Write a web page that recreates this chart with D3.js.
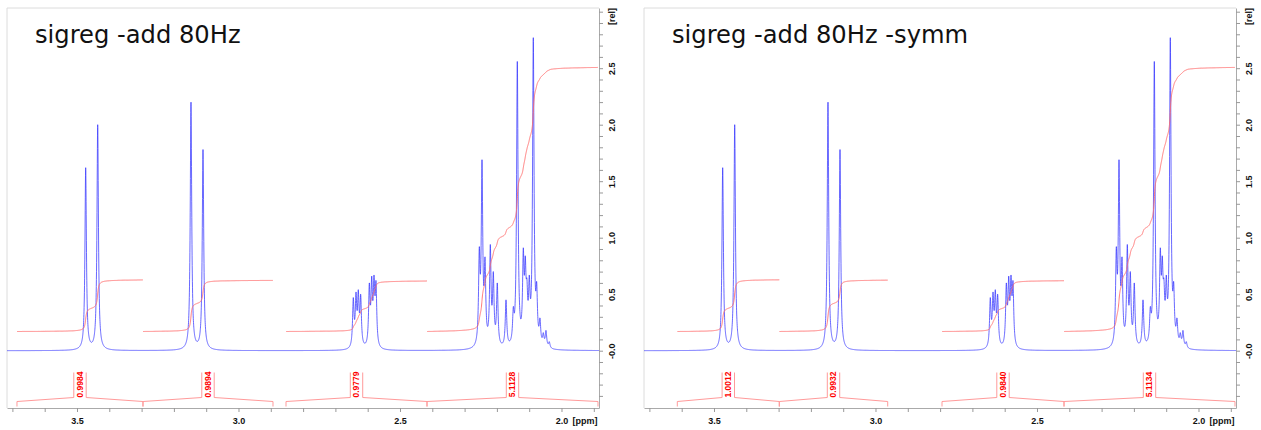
<!DOCTYPE html>
<html>
<head>
<meta charset="utf-8">
<script src="https://cdn.jsdelivr.net/npm/d3@7"></script>
<style>
  body { margin: 0; background: #fff; }
  svg { display: block; }
</style>
</head>
<body>
<div id="chart"></div>
<script>
const width = 1261;
const height = 430;

// panel titles
const titles = ["sigreg -add 80Hz", "sigreg -add 80Hz -symm"];

// peak list: position [ppm] and apparent height [rel]
const peakPpm = [
  3.4731, 3.4359,
  3.1471, 3.1099,
  2.6446, 2.6362, 2.6291, 2.6217, 2.5950, 2.5876, 2.5805, 2.5743,
  2.2545, 2.2461, 2.2368, 2.2204, 2.2111, 2.1988, 2.1718, 2.1492,
  2.1368, 2.1183, 2.1121, 2.1071, 2.0997, 2.0873, 2.0768, 2.0666,
  2.0563, 2.0480, 2.0378
];
const peakHeight = [
  1.62, 2.00,
  2.20, 1.78,
  0.47, 0.52, 0.54, 0.50, 0.60, 0.66, 0.67, 0.62,
  0.92, 1.69, 0.83, 0.94, 0.70, 0.60, 0.45, 0.39,
  2.56, 0.91, 0.84, 0.64, 0.67, 2.77, 0.61, 0.29,
  0.16, 0.18, 0.08
];

// integral regions [ppm from, ppm to] and their values, one list per panel
const regionsLeft = [[3.6858, 3.2957], [3.2957, 2.8932], [2.8529, 2.4164], [2.4164, 1.8870]];
const integralsLeft = [0.9984, 0.9894, 0.9779, 5.1128];
const regionsRight = [[3.6136, 3.2978], [3.2978, 2.9622], [2.7941, 2.4164], [2.4164, 1.8870]];
const integralsRight = [1.0012, 0.9932, 0.9840, 5.1134];

// axis labels
const xLabelValues = [3.5, 3.0, 2.5, 2.0];
const xLabels = ["3.5", "3.0", "2.5", "2.0"];
const yLabelValues = [0, 0.5, 1.0, 1.5, 2.0, 2.5];
const yLabels = ["-0.0", "0.5", "1.0", "1.5", "2.0", "2.5"];

const lineWidthPpm = 0.0027;   // lorentzian half width
const integralBase = 0.17;      // where integral curves start [rel]
const integralUnit = 0.457;     // rel per integral unit

const svg = d3.select("#chart").append("svg")
  .attr("width", width)
  .attr("height", height);

const x = d3.scaleLinear().domain([3.7167, 1.8839]).range([7, 599]);
const y = d3.scaleLinear().domain([-0.5071, 3.0327]).range([408, 8]);

function lor(p, c) {
  const d = p - c;
  return lineWidthPpm * lineWidthPpm / (d * d + lineWidthPpm * lineWidthPpm);
}

// scale amplitudes so the summed lines reach the heights
let amp = peakHeight.slice();
for (let it = 0; it < 60; it++) {
  const sums = peakPpm.map(c => d3.sum(peakPpm, (pj, j) => amp[j] * lor(c, pj)));
  amp = amp.map((a, i) => Math.max(0, a * peakHeight[i] / sums[i]));
}
function spectrum(p) {
  let s = 0;
  for (let j = 0; j < peakPpm.length; j++) s += amp[j] * lor(p, peakPpm[j]);
  return s;
}

const grid = d3.range(7, 599.01, 0.1).map(px => x.invert(px));
const points = grid.map(p => [p, spectrum(p)]);

const line = d3.line().x(d => x(d[0])).y(d => y(d[1]));

function drawPanel(dx, title, regions, integrals) {
  const g = svg.append("g").attr("transform", `translate(${dx},0)`);

  // frame
  g.append("path")
    .attr("d", `M7,408V8H599`)
    .attr("fill", "none")
    .attr("stroke", "#dcdcdc");

  g.append("text")
    .attr("x", 35)
    .attr("y", 43.3)
    .style("font-family", "'DejaVu Sans', Verdana, sans-serif")
    .style("font-size", "24.2px")
    .attr("fill", "#111")
    .text(title);

  // bottom axis
  const xAxis = d3.axisBottom(x)
    .tickValues(d3.range(37, 18, -1).map(v => v / 10))
    .tickSize(4)
    .tickSizeOuter(0)
    .tickFormat(d => {
      const k = xLabelValues.findIndex(v => Math.abs(v - d) < 1e-6);
      return k >= 0 ? xLabels[k] : "";
    });
  const gx = g.append("g").attr("transform", "translate(0,408)").call(xAxis);
  gx.select(".domain").attr("stroke", "#aaa");
  gx.selectAll(".tick line").attr("stroke", "#999");
  gx.selectAll(".tick text")
    .attr("y", 16.3)
    .attr("dy", null)
    .attr("fill", "#111")
    .style("font-family", "'Liberation Sans', Arial, sans-serif")
    .style("font-size", "9px")
    .style("font-weight", "bold");
  gx.append("text")
    .attr("x", x(2.0) + 11)
    .attr("y", 16.3)
    .attr("text-anchor", "start")
    .attr("fill", "#111")
    .style("font-family", "'Liberation Sans', Arial, sans-serif")
    .style("font-size", "9px")
    .style("font-weight", "bold")
    .text("[ppm]");

  // right axis
  const yAxis = d3.axisRight(y)
    .tickValues(d3.range(-4, 31).map(v => v / 10))
    .tickSize(4)
    .tickSizeOuter(0)
    .tickFormat(d => {
      const k = yLabelValues.findIndex(v => Math.abs(v - d) < 1e-6);
      return k >= 0 ? yLabels[k] : "";
    });
  const gy = g.append("g").attr("transform", "translate(599,0)").call(yAxis);
  gy.select(".domain").attr("stroke", "#aaa");
  gy.selectAll(".tick line").attr("stroke", "#999");
  gy.selectAll(".tick text")
    .attr("x", null)
    .attr("dy", "0.35em")
    .attr("text-anchor", "middle")
    .attr("transform", "translate(13,0) rotate(-90)")
    .attr("fill", "#111")
    .style("font-family", "'Liberation Sans', Arial, sans-serif")
    .style("font-size", "9px")
    .style("font-weight", "bold");
  gy.append("text")
    .attr("dy", "0.35em")
    .attr("text-anchor", "middle")
    .attr("transform", "translate(13,16.5) rotate(-90)")
    .attr("fill", "#111")
    .style("font-family", "'Liberation Sans', Arial, sans-serif")
    .style("font-size", "9px")
    .style("font-weight", "bold")
    .text("[rel]");

  // spectrum
  g.append("path")
    .datum(points)
    .attr("d", line)
    .attr("fill", "none")
    .attr("stroke", "#3535ff")
    .attr("stroke-width", 0.75);

  // integrals
  regions.forEach((r, i) => {
    const seg = points.filter(d => d[0] <= r[0] && d[0] >= r[1]);
    let cum = 0;
    const acc = seg.map(d => { cum += d[1]; return cum; });
    const curve = seg.map((d, k) => [d[0], integralBase + integralUnit * integrals[i] * acc[k] / cum]);
    g.append("path")
      .datum(curve)
      .attr("d", line)
      .attr("fill", "none")
      .attr("stroke", "#ff6a6a")
      .attr("stroke-width", 0.9);

    const x0 = x(r[0]), x1 = x(r[1]);
    const cx = (x0 + x1) / 2;
    g.append("path")
      .attr("d", `M${x0},406.5V401.5L${cx - 6.2},397.5V372.5M${cx + 6.2},372.5V397.5L${x1},401.5V406.5`)
      .attr("fill", "none")
      .attr("stroke", "#ff9a9a")
      .attr("stroke-width", 1);
    g.append("text")
      .attr("dy", "0.35em")
      .attr("text-anchor", "middle")
      .attr("transform", `translate(${cx},384.5) rotate(-90)`)
      .attr("fill", "#ff0000")
      .style("font-family", "'Liberation Sans', Arial, sans-serif")
      .style("font-size", "8.5px")
      .style("font-weight", "bold")
      .text(integrals[i].toFixed(4));
  });
}

drawPanel(0, titles[0], regionsLeft, integralsLeft);
drawPanel(637, titles[1], regionsRight, integralsRight);
</script>
</body>
</html>
